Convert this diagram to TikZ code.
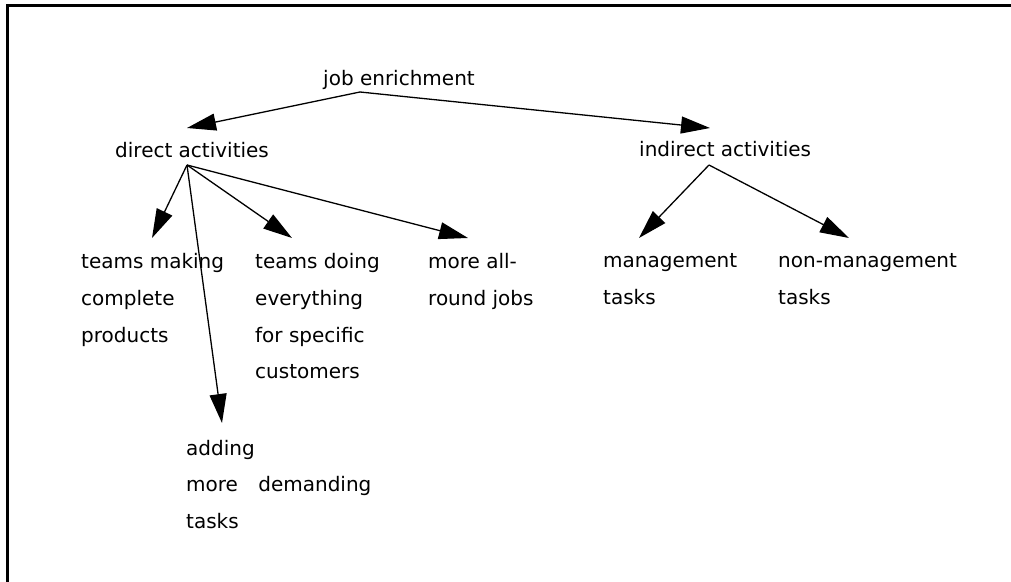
\documentclass[tikz,border=0pt]{standalone}
\usepackage{fontspec}
\setmainfont{DejaVu Sans}
\usetikzlibrary{arrows.meta}
\begin{document}
\begin{tikzpicture}[x=1bp,y=-1bp,
  lbl/.style={anchor=base west, inner sep=0pt, align=left, font=\fontsize{20bp}{36.5bp}\selectfont},
  conn/.style={line width=1.3bp, -{Triangle[length=29bp,width=17bp]}}]
\useasboundingbox (0,0) rectangle (1011,582);
\draw[line width=3bp] (7,582) -- (7,6) -- (1011,6);
% labels (anchor at baseline of last line)
\node[lbl] (je) at (323,86) {job enrichment};
\node[lbl] (da) at (115,158) {direct activities};
\node[lbl] (ia) at (639,157) {indirect activities};
\node[lbl] (tm) at (81,342) {teams making\\complete\\products};
\node[lbl] (td) at (255,378.5) {teams doing\\everything\\for specific\\customers};
\node[lbl] (ma) at (428,305.5) {more all-\\round jobs};
\node[lbl] (ad) at (186,528) {adding\\more\hspace{14bp} demanding\\tasks};
\node[lbl] (mt) at (603,304.5) {management\\tasks};
\node[lbl] (nm) at (778,304.5) {non-management\\tasks};
% connector ends
\coordinate (jeo) at (360,92);
\coordinate (dao) at (187,165);
\coordinate (iao) at (709,165);
\coordinate (dai) at (187,128);
\coordinate (iai) at (710,128);
\coordinate (tmi) at (152,238);
\coordinate (tdi) at (292,238);
\coordinate (mai) at (468,238);
\coordinate (adi) at (222,423);
\coordinate (mti) at (639,238);
\coordinate (nmi) at (849,238);
% connectors
\draw[conn] (jeo) -- (dai);
\draw[conn] (jeo) -- (iai);
\draw[conn] (dao) -- (tmi);
\draw[conn] (dao) -- (tdi);
\draw[conn] (dao) -- (mai);
\draw[conn] (dao) -- (adi);
\draw[conn] (iao) -- (mti);
\draw[conn] (iao) -- (nmi);
\end{tikzpicture}
\end{document}
